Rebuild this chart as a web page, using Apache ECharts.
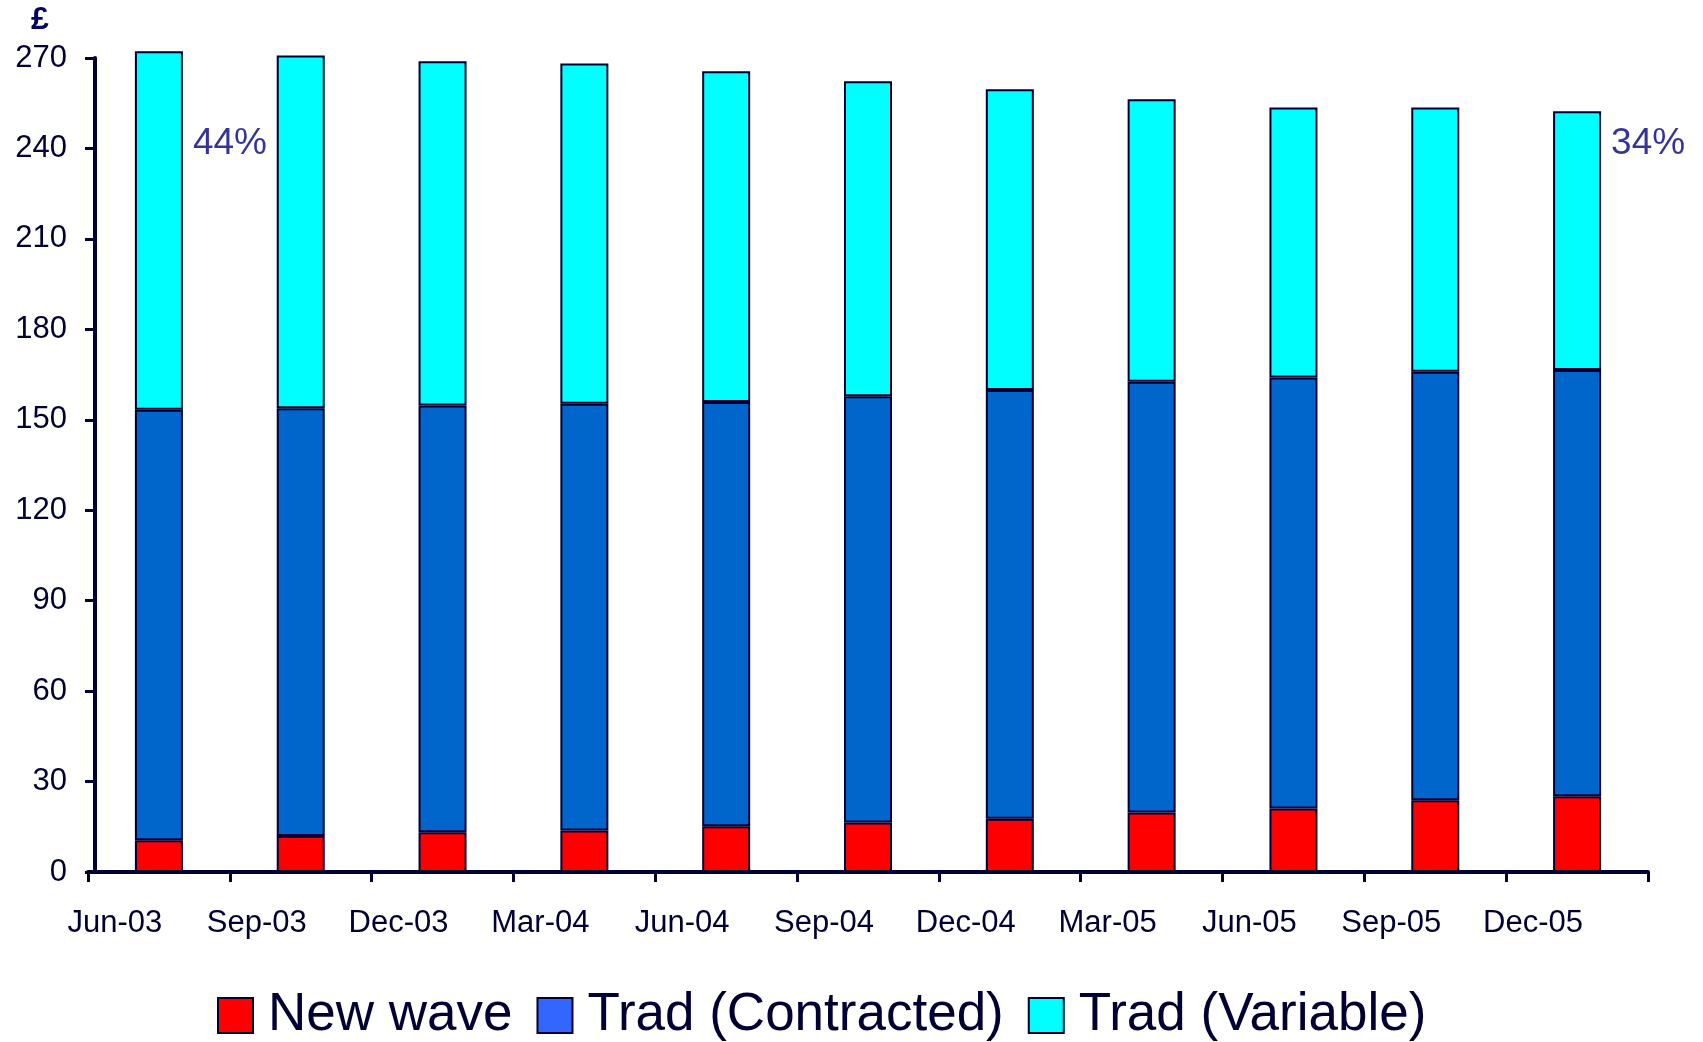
<!DOCTYPE html>
<html>
<head>
<meta charset="utf-8">
<script src="https://cdn.jsdelivr.net/npm/echarts@6/dist/echarts.min.js"></script>
<style>
html,body{margin:0;padding:0;background:#fff;}
#chart{width:1703px;height:1042px;}
</style>
</head>
<body>
<div id="chart"></div>
<script>
const categories = ['Jun-03','Sep-03','Dec-03','Mar-04','Jun-04','Sep-04','Dec-04','Mar-05','Jun-05','Sep-05','Dec-05'];
const newWave = [10.5, 11.9, 13.2, 13.8, 15.2, 16.4, 17.7, 19.7, 21.1, 23.8, 25.1];
const tradContracted = [142.8, 141.9, 141.5, 141.5, 140.7, 141.4, 142.2, 142.9, 142.9, 142.1, 141.4];
const tradVariable = [118.9, 117.0, 114.2, 112.9, 109.7, 104.5, 99.7, 93.7, 89.6, 87.7, 85.8];
const annoCats = ['Jun-03', 'Dec-05'];
const annoTexts = ['44%', '34%'];
const annoValue = 241.5;
const yMax = 270;
const yStep = 30;

const navy = '#000033';
const chart = echarts.init(document.getElementById('chart'));
const barStyle = (c) => ({ color: c, borderColor: navy, borderWidth: 2 });

chart.setOption({
  animation: false,
  backgroundColor: '#ffffff',
  textStyle: { fontFamily: 'Liberation Sans, Arial, sans-serif' },
  grid: { left: 88, top: 58, width: 1560, bottom: 170 },
  legend: {
    left: 212, top: 984,
    itemWidth: 35, itemHeight: 35, itemGap: 24,
    icon: 'rect',
    textStyle: { fontSize: 53, color: navy, padding: [0, 0, 0, 10], fontFamily: 'Liberation Sans, Arial, sans-serif' },
    data: [
      { name: 'New wave', itemStyle: { color: '#ff0000', borderColor: navy, borderWidth: 2 } },
      { name: 'Trad (Contracted)', itemStyle: { color: '#3366ff', borderColor: navy, borderWidth: 2 } },
      { name: 'Trad (Variable)', itemStyle: { color: '#00ffff', borderColor: navy, borderWidth: 2 } }
    ]
  },
  xAxis: {
    type: 'category',
    data: categories,
    boundaryGap: true,
    axisLine: { lineStyle: { color: navy, width: 4 } },
    axisTick: { show: true, length: 10, lineStyle: { color: navy, width: 3 } },
    axisLabel: { fontSize: 31, color: navy, margin: 36, padding: [0, 88, 0, 0], interval: 0 },
    splitLine: { show: false }
  },
  yAxis: {
    type: 'value',
    min: 0, max: yMax, interval: yStep,
    offset: -7,
    name: '£',
    nameLocation: 'end',
    nameGap: 22,
    nameTextStyle: { fontSize: 32, fontWeight: 'bold', color: '#000066', padding: [0, 110, 0, 0] },
    axisLine: { show: true, lineStyle: { color: navy, width: 4 } },
    axisTick: { show: true, length: 10, lineStyle: { color: navy, width: 3 } },
    axisLabel: { fontSize: 31, color: navy, margin: 28 },
    splitLine: { show: false }
  },
  series: [
    { name: 'New wave', type: 'bar', stack: 'total', barWidth: 48, clip: false, data: newWave, itemStyle: barStyle('#ff0000') },
    { name: 'Trad (Contracted)', type: 'bar', stack: 'total', barWidth: 48, clip: false, data: tradContracted, itemStyle: barStyle('#0066cc') },
    { name: 'Trad (Variable)', type: 'bar', stack: 'total', barWidth: 48, clip: false, data: tradVariable, itemStyle: barStyle('#00ffff') },
    {
      name: 'share', type: 'scatter', symbolSize: 0,
      data: annoCats.map((c, i) => ({ value: [c, annoValue], label: { formatter: annoTexts[i] } })),
      label: { show: true, position: 'right', distance: 34, fontSize: 37, color: '#000080' },
      z: 5
    }
  ]
});
</script>
</body>
</html>
